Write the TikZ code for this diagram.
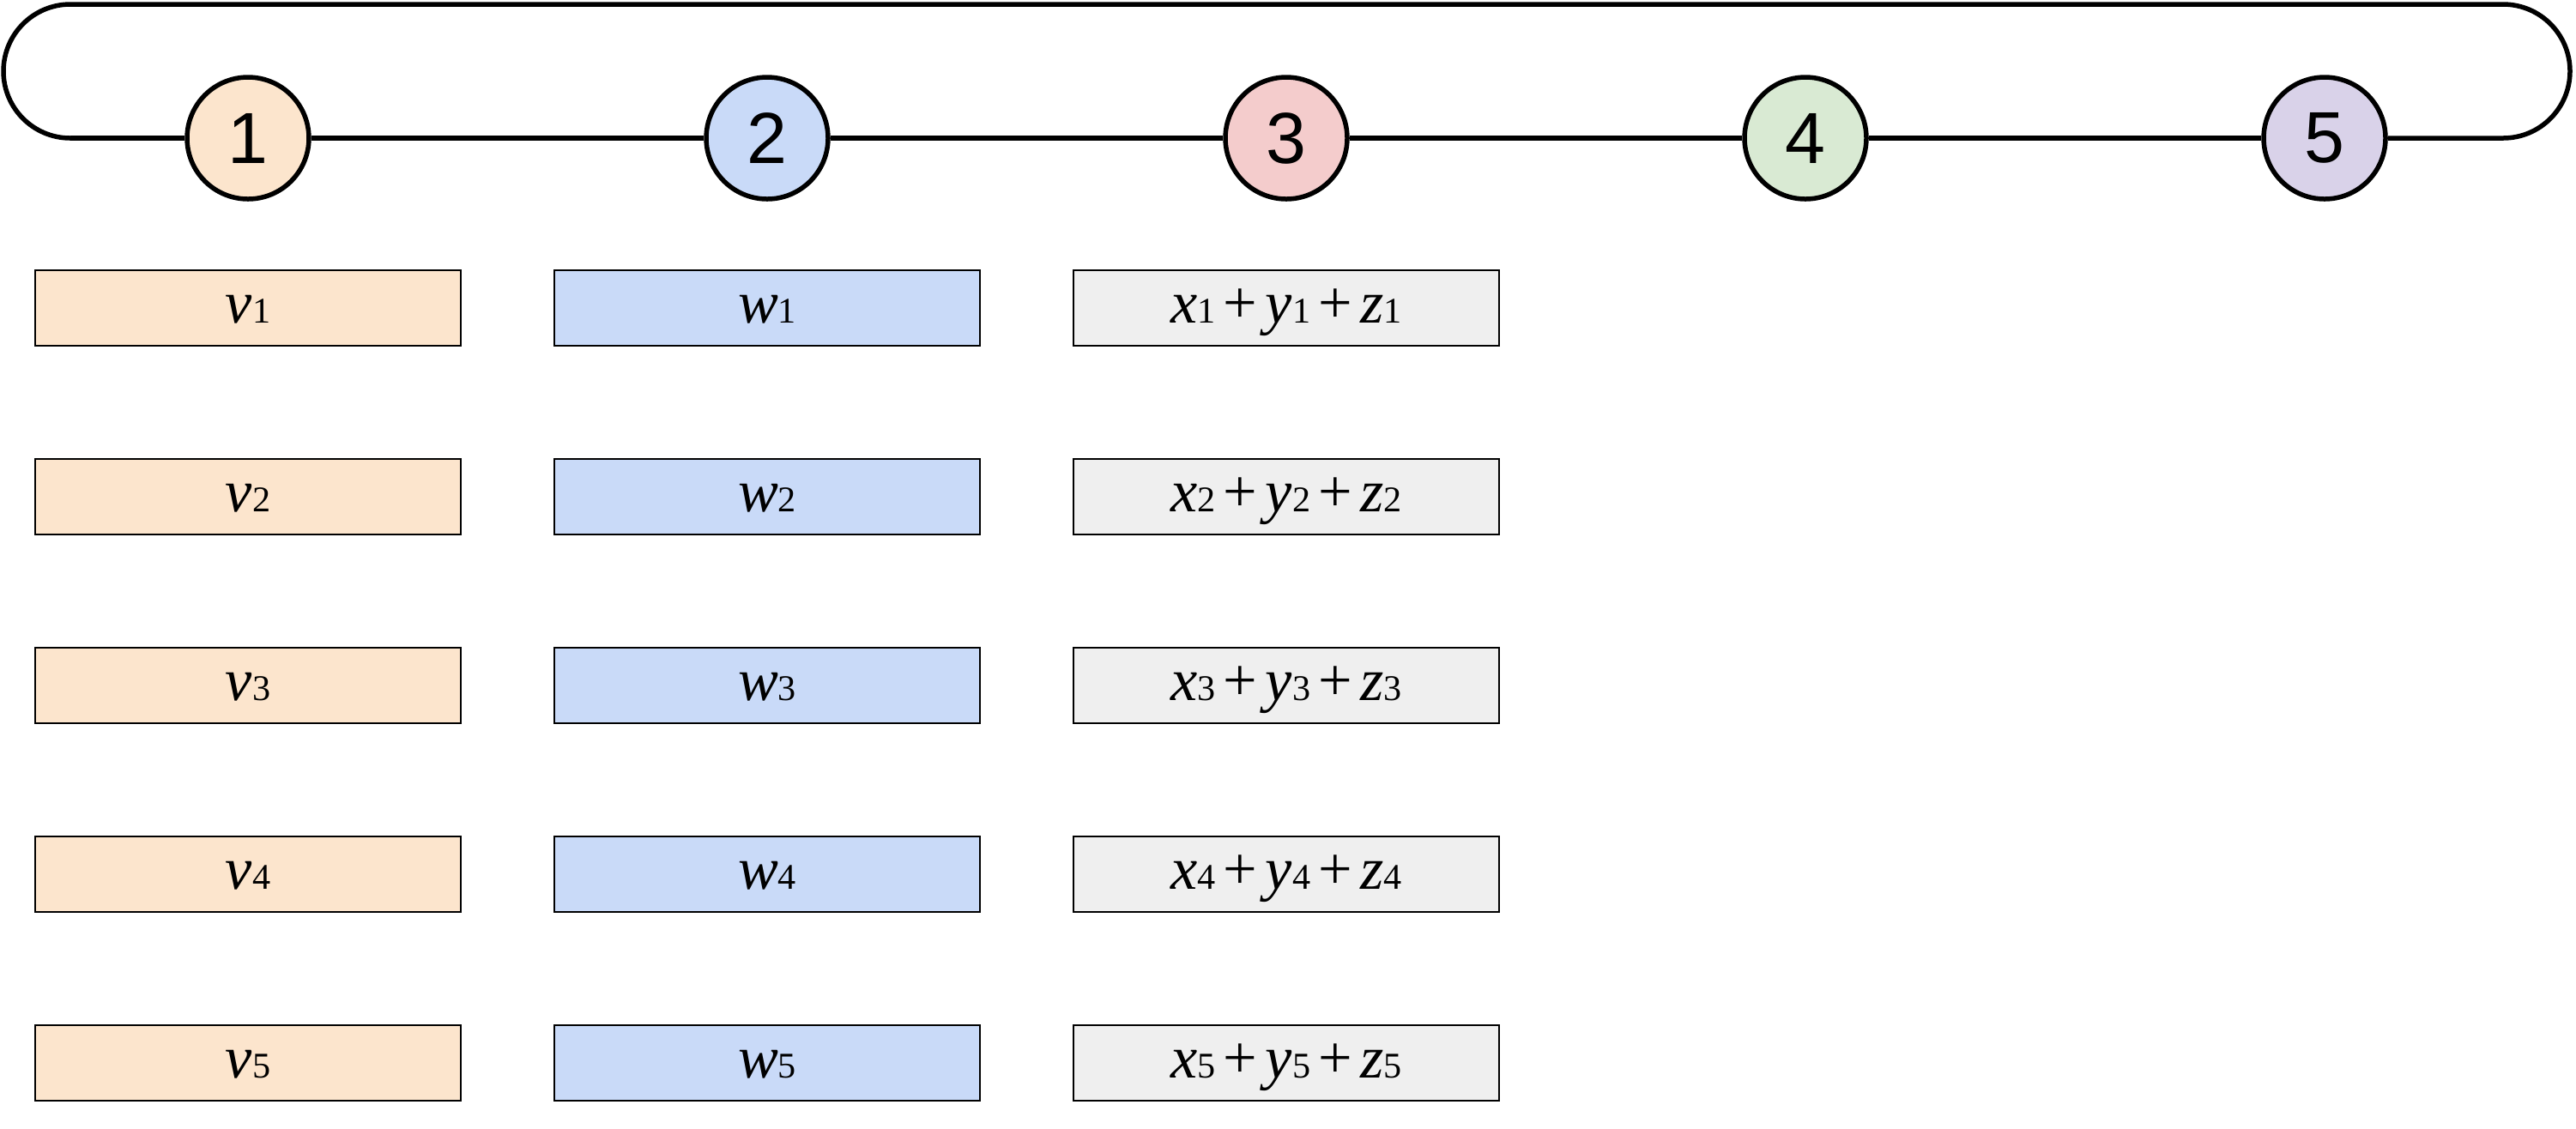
\documentclass[tikz,border=0pt]{standalone}
\usepackage{fontspec}
\setmainfont{Liberation Serif}
\setsansfont{Liberation Sans}
\usepackage{xcolor}
\usepackage{tikz}
\usetikzlibrary{positioning}
\definecolor{tintA}{HTML}{FCE5CD}
\definecolor{tintB}{HTML}{C9DAF8}
\definecolor{tintC}{HTML}{F4CCCC}
\definecolor{tintD}{HTML}{D9EAD3}
\definecolor{tintE}{HTML}{D9D2E9}
\definecolor{sumgray}{HTML}{EFEFEF}
\newcommand{\ivar}[2]{\textit{#1}{\fontsize{12}{13}\selectfont #2}}
\newcommand{\pl}{\hspace{0.13em}+\hspace{0.13em}}
\tikzset{
  ring/.style ={circle, draw=black, line width=0.055cm, minimum size=1.42cm, inner sep=0pt, font=\sffamily\fontsize{24}{28}\selectfont},
  cell/.style ={rectangle, draw=black, line width=0.8pt, minimum width=4.96cm, minimum height=0.88cm, inner sep=0pt, text height=14pt, text depth=3.8pt, font=\fontsize{20}{22}\selectfont},
  wire/.style ={draw=black, line width=0.055cm},
}

\begin{document}
\begin{tikzpicture}
\useasboundingbox (0,0) rectangle (30.02,-13.15);
\coordinate (lt) at (0.82,-0.05);
\coordinate (lb) at (0.82,-1.61);
\coordinate (rb) at (29.17,-1.61);
\node[ring, fill=tintA] (n1) at (2.89,-1.61) {1};
\node[ring, fill=tintB] (n2) at (8.94,-1.61) {2};
\node[ring, fill=tintC] (n3) at (14.99,-1.61) {3};
\node[ring, fill=tintD] (n4) at (21.04,-1.61) {4};
\node[ring, fill=tintE] (n5) at (27.09,-1.61) {5};
\draw[wire] (lb) -- (n1);
\draw[wire] (n1) -- (n2);
\draw[wire] (n2) -- (n3);
\draw[wire] (n3) -- (n4);
\draw[wire] (n4) -- (n5);
\draw[wire] (n5) -- (rb) arc[start angle=-90, end angle=90, radius=0.78] -- (lt) arc[start angle=90, end angle=270, radius=0.78];

\node[cell, fill=tintA] (v1) at (2.89,-3.59) {\ivar{v}{1}};
\node[cell, fill=tintA] (v2) at (2.89,-5.79) {\ivar{v}{2}};
\node[cell, fill=tintA] (v3) at (2.89,-7.99) {\ivar{v}{3}};
\node[cell, fill=tintA] (v4) at (2.89,-10.19) {\ivar{v}{4}};
\node[cell, fill=tintA] (v5) at (2.89,-12.39) {\ivar{v}{5}};
\node[cell, fill=tintB] (w1) at (8.94,-3.59) {\ivar{w}{1}};
\node[cell, fill=tintB] (w2) at (8.94,-5.79) {\ivar{w}{2}};
\node[cell, fill=tintB] (w3) at (8.94,-7.99) {\ivar{w}{3}};
\node[cell, fill=tintB] (w4) at (8.94,-10.19) {\ivar{w}{4}};
\node[cell, fill=tintB] (w5) at (8.94,-12.39) {\ivar{w}{5}};
\node[cell, fill=sumgray] (s1) at (14.99,-3.59) {\ivar{x}{1}\pl\ivar{y}{1}\pl\ivar{z}{1}};
\node[cell, fill=sumgray] (s2) at (14.99,-5.79) {\ivar{x}{2}\pl\ivar{y}{2}\pl\ivar{z}{2}};
\node[cell, fill=sumgray] (s3) at (14.99,-7.99) {\ivar{x}{3}\pl\ivar{y}{3}\pl\ivar{z}{3}};
\node[cell, fill=sumgray] (s4) at (14.99,-10.19) {\ivar{x}{4}\pl\ivar{y}{4}\pl\ivar{z}{4}};
\node[cell, fill=sumgray] (s5) at (14.99,-12.39) {\ivar{x}{5}\pl\ivar{y}{5}\pl\ivar{z}{5}};

\end{tikzpicture}
\end{document}
